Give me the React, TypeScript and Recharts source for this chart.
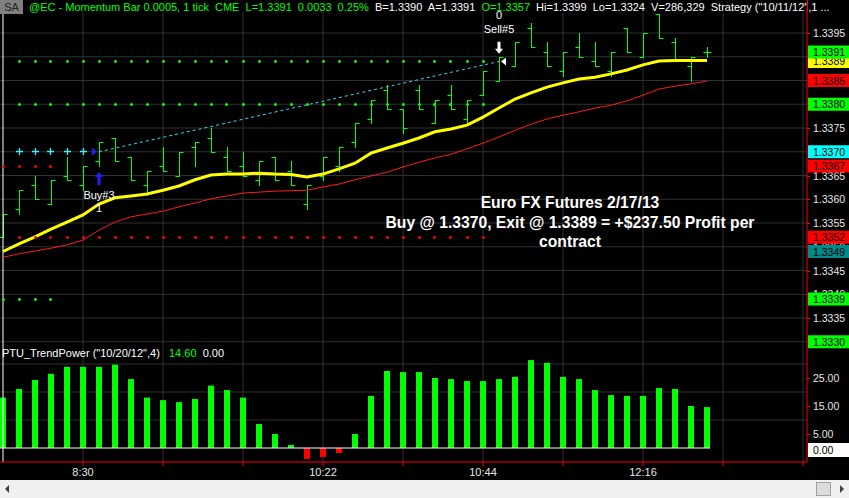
import React from 'react';
import {
  ComposedChart, Bar, Line, XAxis, YAxis, CartesianGrid,
  ReferenceLine, ReferenceDot, Cell,
} from 'recharts';

// Momentum bars (0.0005 range), one per index
const HIGH = [
  1.3357, 1.3362, 1.3365, 1.3364, 1.3369, 1.3367, 1.3372, 1.3373, 1.3369, 1.3366,
  1.3371, 1.3370, 1.3372, 1.3375, 1.3371, 1.3370, 1.3368, 1.3369, 1.3368, 1.3363,
  1.3369, 1.3371, 1.3376, 1.3381, 1.3384, 1.3379, 1.3384, 1.3381, 1.3384, 1.3381,
  1.3387, 1.3390, 1.3393, 1.3397, 1.3393, 1.3391, 1.3395, 1.3393, 1.3391, 1.3396,
  1.3395, 1.3399, 1.3394, 1.3390, 1.3392,
];
const LOW = [
  1.3352, 1.3357, 1.3360, 1.3359, 1.3364, 1.3362, 1.3367, 1.3368, 1.3364, 1.3361,
  1.3366, 1.3365, 1.3367, 1.3370, 1.3366, 1.3365, 1.3363, 1.3364, 1.3363, 1.3358,
  1.3364, 1.3366, 1.3371, 1.3376, 1.3379, 1.3374, 1.3379, 1.3376, 1.3379, 1.3376,
  1.3382, 1.3385, 1.3388, 1.3392, 1.3388, 1.3386, 1.3390, 1.3388, 1.3386, 1.3391,
  1.3390, 1.3394, 1.3389, 1.3385, 1.3390,
];
const OPEN = [
  1.3352, 1.3358, 1.3363, 1.3359, 1.3365, 1.3363, 1.3368, 1.3373, 1.3369, 1.3363,
  1.3367, 1.3365, 1.3371, 1.3373, 1.3369, 1.3367, 1.3364, 1.3369, 1.3366, 1.3359,
  1.3365, 1.3367, 1.3372, 1.3377, 1.3383, 1.3379, 1.3383, 1.3376, 1.3382, 1.3377,
  1.3382, 1.3385, 1.3388, 1.3396, 1.3391, 1.3387, 1.3392, 1.3389, 1.3387, 1.3396,
  1.3390, 1.3399, 1.3393, 1.3388, 1.3391,
];
const CLOSE = [
  1.3357, 1.3362, 1.3360, 1.3364, 1.3364, 1.3367, 1.3372, 1.3368, 1.3364, 1.3366,
  1.3366, 1.3370, 1.3372, 1.3370, 1.3366, 1.3365, 1.3368, 1.3364, 1.3363, 1.3363,
  1.3369, 1.3371, 1.3376, 1.3381, 1.3379, 1.3375, 1.3379, 1.3381, 1.3379, 1.3381,
  1.3387, 1.3390, 1.3393, 1.3392, 1.3388, 1.3391, 1.3390, 1.3388, 1.3391, 1.3391,
  1.3395, 1.3394, 1.3389, 1.3390, 1.3391,
];
// yellow average and red lower band
const MA_YELLOW = [
  1.33490, 1.33506, 1.33521, 1.33537, 1.33552, 1.33567, 1.33590, 1.33603, 1.33607, 1.33611,
  1.33619, 1.33628, 1.33641, 1.33651, 1.33653, 1.33653, 1.33655, 1.33653, 1.33652, 1.33647,
  1.33653, 1.33664, 1.33676, 1.33697, 1.33708, 1.33718, 1.33729, 1.33742, 1.33748, 1.33756,
  1.33773, 1.33792, 1.33811, 1.33824, 1.33836, 1.33845, 1.33853, 1.33857, 1.33864, 1.33872,
  1.33883, 1.33891, 1.33892, 1.33892, 1.33892,
];
const MA_RED = [
  1.33478, 1.33485, 1.33491, 1.33497, 1.33504, 1.33514, 1.33535, 1.33552, 1.33563, 1.33569,
  1.33575, 1.33584, 1.33592, 1.33601, 1.33607, 1.33613, 1.33615, 1.33617, 1.33618, 1.33619,
  1.33626, 1.33632, 1.33641, 1.33649, 1.33657, 1.33668, 1.33678, 1.33687, 1.33695, 1.33706,
  1.33718, 1.33731, 1.33745, 1.33758, 1.33769, 1.33777, 1.33784, 1.33792, 1.33798, 1.33807,
  1.33819, 1.33832, 1.33838, 1.33843, 1.33849,
];
// PTU_TrendPower histogram
const TREND_POWER = [
  18.0, 21.1, 24.3, 26.5, 29.0, 29.0, 29.0, 29.8, 24.6, 18.0,
  17.1, 16.4, 17.5, 22.3, 20.7, 18.0, 8.6, 5.0, 1.1, -3.9,
  -3.2, -1.8, 5.0, 18.6, 27.5, 27.1, 27.1, 25.0, 24.6, 23.9,
  23.9, 24.6, 25.4, 31.4, 30.4, 25.4, 24.6, 20.7, 18.9, 18.6,
  18.6, 21.4, 21.1, 15.0, 14.6,
];

const TIME_LABELS: Record<number, string> = { 5: '8:30', 20: '10:22', 30: '10:44', 40: '12:16' };
const GRID_X = [5, 10, 15, 20, 25, 30, 35, 40, 45, 50];
const PRICE_TICKS = [
  1.3395, 1.3390, 1.3385, 1.3380, 1.3375, 1.3370, 1.3365,
  1.3360, 1.3355, 1.3350, 1.3345, 1.3340, 1.3335, 1.3330,
];
const POWER_TICKS = [25, 15, 5, 0];
const POWER_GRID = [10, 20, 30];

// strategy levels: price drawn from bar `from` to bar `to`
const TARGET_1 = { price: 1.3389, from: 1, to: 30 };
const TARGET_2 = { price: 1.3380, from: 1, to: 30 };
const ENTRY_STOP = { price: 1.3370, from: 1, to: 5 };
const STOP_1 = { price: 1.3367, from: 0, to: 3 };
const STOP_2 = { price: 1.3352, from: 1, to: 30 };
const TARGET_3 = { price: 1.3339, from: 0, to: 3 };

const ENTRY = { bar: 6, price: 1.3370 };
const EXIT = { bar: 31, price: 1.3389 };

// flagged prices on the right scale
const FLAGS: Record<string, number> = {
  ma: 1.3389, last: 1.3391, band: 1.3385, target: 1.3380, entry: 1.3370,
  stop: 1.3367, stop2: 1.3352, prev: 1.3349, target3: 1.3339, low: 1.3330,
};
const FLAG_COLORS: Record<string, string> = {
  ma: '#ffff00', last: '#00ff00', band: '#ff0000', target: '#00ff00', entry: '#00ffff',
  stop: '#ff0000', stop2: '#ff0000', prev: '#008b8b', target3: '#00ff00', low: '#00ff00',
};

const X_DOMAIN: [number, number] = [-0.1875, 50.25];
const PRICE_DOMAIN: [number, number] = [1.332911, 1.339942];
const POWER_DOMAIN: [number, number] = [-5, 36.43];

const GREEN = '#00ff00';
const GRID = '#303030';
const FONT = 'Arial, "Liberation Sans", sans-serif';

const span = (lvl: { price: number; from: number; to: number }, i: number) =>
  i >= lvl.from && i <= lvl.to ? lvl.price : null;

const priceData = HIGH.map((h, i) => ({
  i,
  range: [LOW[i], h],
  high: h,
  low: LOW[i],
  open: OPEN[i],
  close: CLOSE[i],
  ma: MA_YELLOW[i],
  band: MA_RED[i],
  t1: span(TARGET_1, i),
  t2: span(TARGET_2, i),
  es: span(ENTRY_STOP, i),
  s1: span(STOP_1, i),
  s2: span(STOP_2, i),
  t3: span(TARGET_3, i),
}));

const powerData = TREND_POWER.map((v, i) => ({ i, power: v }));

const flagKey = (v: number) =>
  Object.keys(FLAGS).find((k) => Math.abs(FLAGS[k] - v) < 1e-7);

const snap = (v: number) => Math.round(v) + 0.5;

const OhlcBar = (p: any) => {
  const { x, y, width, height, payload } = p;
  if (x == null || y == null) return <g />;
  const top = Math.min(y, y + height);
  const bot = Math.max(y, y + height);
  const rng = payload.high - payload.low;
  const yOf = (v: number) => snap(top + ((payload.high - v) / rng) * (bot - top));
  const cx = snap(x + width / 2 - 0.5);
  return (
    <g stroke={GREEN} strokeWidth={1}>
      <line x1={cx} x2={cx} y1={Math.round(top)} y2={Math.round(bot) + 1} />
      <line x1={cx - 4} x2={cx} y1={yOf(payload.open)} y2={yOf(payload.open)} />
      <line x1={cx} x2={cx + 4} y1={yOf(payload.close)} y2={yOf(payload.close)} />
    </g>
  );
};

const makeDot = (color: string, arm: number, w: number) => (p: any) => {
  const { cx, cy, value, index } = p;
  if (value == null || cy == null || isNaN(cy)) return <g key={`e${index}`} />;
  const x = snap(cx - 0.5);
  const y = snap(cy - 0.5);
  return (
    <path
      key={`d${index}`}
      d={`M${x - arm} ${y}H${x + arm}M${x} ${y - arm}V${y + arm}`}
      stroke={color}
      strokeWidth={w}
      fill="none"
    />
  );
};

const PriceTick = (p: any) => {
  const { x, y, payload } = p;
  const v: number = payload.value;
  const k = flagKey(v);
  if (k) {
    return (
      <g>
        <rect x={x - 4} y={y - 6.5} width={42} height={13} fill={FLAG_COLORS[k]} />
        <text x={x + 1} y={y + 4} fill="#000" fontSize={10.5}>{v.toFixed(4)}</text>
      </g>
    );
  }
  return (
    <g>
      <line x1={x - 5} x2={x - 2} y1={snap(y)} y2={snap(y)} stroke="#ff0000" />
      <text x={x + 1} y={y + 4} fill="#e6e6e6" fontSize={10.5}>{v.toFixed(4)}</text>
    </g>
  );
};

const PowerTick = (p: any) => {
  const { x, y, payload } = p;
  const v: number = payload.value;
  if (v === 0) {
    return (
      <g>
        <rect x={x - 4} y={y - 5} width={42} height={14} fill="#ffffff" />
        <text x={x + 1} y={y + 6} fill="#000" fontSize={10.5}>{v.toFixed(2)}</text>
      </g>
    );
  }
  return (
    <g>
      <line x1={x - 5} x2={x - 2} y1={snap(y)} y2={snap(y)} stroke="#ff0000" />
      <text x={x + 1} y={y + 4} fill="#e6e6e6" fontSize={10.5}>{v.toFixed(2)}</text>
    </g>
  );
};

const BuyMarker = (p: any) => {
  const { cx, cy } = p;
  return (
    <g>
      <path
        d={`M${cx} ${cy + 6}L${cx + 4} ${cy + 11}H${cx + 1.5}V${cy + 19}H${cx - 1.5}V${cy + 11}H${cx - 4}Z`}
        fill="#2020ff"
      />
      <text x={cx} y={cy + 33} textAnchor="middle" fill="#ffffff" fontSize={11}>Buy#3</text>
      <text x={cx} y={cy + 46} textAnchor="middle" fill="#ffffff" fontSize={11}>1</text>
    </g>
  );
};

const SellMarker = (p: any) => {
  const { cx, cy } = p;
  return (
    <g>
      <path
        d={`M${cx} ${cy - 3}L${cx - 4} ${cy - 8}H${cx - 1.5}V${cy - 15}H${cx + 1.5}V${cy - 8}H${cx + 4}Z`}
        fill="#ffffff"
      />
      <text x={cx} y={cy - 24} textAnchor="middle" fill="#ffffff" fontSize={11}>Sell#5</text>
      <text x={cx} y={cy - 38} textAnchor="middle" fill="#ffffff" fontSize={11}>0</text>
    </g>
  );
};

const EntryFlag = (p: any) => {
  const { cx, cy } = p;
  return <path d={`M${cx - 7} ${cy - 4}V${cy + 4}L${cx - 2} ${cy}Z`} fill="#2020ff" />;
};

const ExitFlag = (p: any) => {
  const { cx, cy } = p;
  return <path d={`M${cx + 2} ${cy}L${cx + 7} ${cy - 4}V${cy + 4}Z`} fill="#ffffff" />;
};

const labelTicks = [
  ...PRICE_TICKS.filter((v) => !flagKey(v)),
  ...Object.keys(FLAGS).map((k) => FLAGS[k]),
];

export default function App() {
  return (
    <div
      style={{
        position: 'absolute', left: 0, top: 0, width: 849, height: 498,
        background: '#000', overflow: 'hidden', fontFamily: FONT,
      }}
    >
      {/* price panel */}
      <div style={{ position: 'absolute', left: 0, top: 0 }}>
        <ComposedChart width={849} height={353} data={priceData} margin={{ top: 12, right: 0, bottom: 7, left: 0 }}>
          <CartesianGrid stroke={GRID} horizontalValues={PRICE_TICKS} verticalValues={GRID_X} />
          <XAxis type="number" dataKey="i" domain={X_DOMAIN} hide allowDataOverflow />
          <YAxis
            orientation="right"
            type="number"
            domain={PRICE_DOMAIN}
            ticks={labelTicks}
            interval={0}
            width={42}
            tickSize={3}
            tickMargin={2}
            tickLine={false}
            axisLine={{ stroke: '#ff0000' }}
            tick={<PriceTick />}
            allowDataOverflow
          />
          <ReferenceLine x={0} stroke="#ffffff" />
          <Line dataKey="t1" stroke="none" dot={makeDot(GREEN, 1.5, 1.5)} activeDot={false} isAnimationActive={false} />
          <Line dataKey="t2" stroke="none" dot={makeDot(GREEN, 1.5, 1.5)} activeDot={false} isAnimationActive={false} />
          <Line dataKey="s1" stroke="none" dot={makeDot('#ff0000', 1.5, 1.5)} activeDot={false} isAnimationActive={false} />
          <Line dataKey="s2" stroke="none" dot={makeDot('#ff0000', 1.5, 1.5)} activeDot={false} isAnimationActive={false} />
          <Line dataKey="t3" stroke="none" dot={makeDot(GREEN, 1.5, 1.5)} activeDot={false} isAnimationActive={false} />
          <Line dataKey="es" stroke="none" dot={makeDot('#40f0ff', 3.5, 1.3)} activeDot={false} isAnimationActive={false} />
          <ReferenceLine
            segment={[{ x: ENTRY.bar, y: ENTRY.price }, { x: EXIT.bar, y: EXIT.price }]}
            stroke="#40d8f0"
            strokeDasharray="3 3"
          />
          <Line dataKey="band" stroke="#ff1a1a" strokeWidth={1} dot={false} activeDot={false} isAnimationActive={false} />
          <Line dataKey="ma" stroke="#ffff00" strokeWidth={3} dot={false} activeDot={false} isAnimationActive={false} />
          <Bar dataKey="range" barSize={6} shape={<OhlcBar />} isAnimationActive={false} />
          <ReferenceDot x={ENTRY.bar} y={ENTRY.price} shape={<EntryFlag />} />
          <ReferenceDot x={ENTRY.bar} y={LOW[ENTRY.bar]} shape={<BuyMarker />} />
          <ReferenceDot x={EXIT.bar} y={EXIT.price} shape={<ExitFlag />} />
          <ReferenceDot x={EXIT.bar} y={HIGH[EXIT.bar]} shape={<SellMarker />} />
        </ComposedChart>
      </div>

      {/* indicator panel */}
      <div style={{ position: 'absolute', left: 0, top: 346 }}>
        <ComposedChart width={849} height={134} data={powerData} margin={{ top: 0, right: 0, bottom: 0, left: 0 }}>
          <CartesianGrid stroke={GRID} horizontalValues={POWER_GRID} verticalValues={GRID_X} />
          <XAxis
            type="number"
            dataKey="i"
            domain={X_DOMAIN}
            ticks={GRID_X}
            interval={0}
            tickFormatter={(v: number) => TIME_LABELS[v] ?? ''}
            axisLine={{ stroke: '#ff0000' }}
            tickLine={{ stroke: '#ff0000' }}
            tickSize={4}
            tickMargin={2}
            height={18}
            tick={{ fill: '#e6e6e6', fontSize: 11 }}
            allowDataOverflow
          />
          <YAxis
            orientation="right"
            type="number"
            domain={POWER_DOMAIN}
            ticks={POWER_TICKS}
            interval={0}
            width={42}
            tickSize={3}
            tickMargin={2}
            tickLine={false}
            axisLine={{ stroke: '#ff0000' }}
            tick={<PowerTick />}
            allowDataOverflow
          />
          <ReferenceLine x={0} stroke="#ffffff" />
          <Bar dataKey="power" barSize={6} isAnimationActive={false}>
            {powerData.map((d) => (
              <Cell key={d.i} fill={d.power >= 0 ? GREEN : '#ff0000'} />
            ))}
          </Bar>
          <ReferenceLine
            segment={[{ x: X_DOMAIN[0], y: 0 }, { x: TREND_POWER.length - 1 + 0.2, y: 0 }]}
            stroke="#ffffff"
          />
        </ComposedChart>
      </div>

      {/* header */}
      <div
        style={{
          position: 'absolute', left: 0, top: 0, height: 15, width: 807,
          fontSize: 11, lineHeight: '15px', whiteSpace: 'pre', color: '#fff',
        }}
      >
        <span style={{ display: 'inline-block', background: '#808080', color: '#202020', width: 23, height: 14, textAlign: 'center', marginRight: 6 }}>SA</span>
        <span style={{ color: GREEN }}>@EC - Momentum Bar 0.0005, 1 tick  CME  L=1.3391  0.0033  0.25%</span>
        <span>  B=1.3390  A=1.3391  </span>
        <span style={{ color: GREEN }}>O=1.3357</span>
        <span>  Hi=1.3399  Lo=1.3324  V=286,329  Strategy ("10/11/12",1 ...</span>
      </div>
      <div style={{ position: 'absolute', left: 807, top: 0, width: 1, height: 12, background: '#ff0000' }} />

      {/* indicator title */}
      <div style={{ position: 'absolute', left: 2, top: 346, fontSize: 11, lineHeight: '14px', whiteSpace: 'pre', color: '#fff' }}>
        <span>PTU_TrendPower ("10/20/12",4)   </span>
        <span style={{ color: GREEN }}>14.60</span>
        <span>  0.00</span>
      </div>

      {/* annotation */}
      <div
        style={{
          position: 'absolute', left: 370, top: 193, width: 400, textAlign: 'center',
          color: '#fff', fontWeight: 'bold', fontSize: 15.7, lineHeight: '19.5px',
        }}
      >
        <div>Euro FX Futures 2/17/13</div>
        <div>Buy @ 1.3370, Exit @ 1.3389 = +$237.50 Profit per</div>
        <div>contract</div>
      </div>

      {/* scrollbar */}
      <div style={{ position: 'absolute', left: 0, top: 480, width: 849, height: 18, background: '#f0f0f0' }}>
        <div style={{ position: 'absolute', left: 5, top: 5, width: 0, height: 0, borderTop: '4px solid transparent', borderBottom: '4px solid transparent', borderRight: '4px solid #404040' }} />
        <div style={{ position: 'absolute', left: 816, top: 2, width: 15, height: 14, background: '#dcdcdc', border: '1px solid #a0a0a0', boxSizing: 'border-box' }} />
        <div style={{ position: 'absolute', left: 840, top: 5, width: 0, height: 0, borderTop: '4px solid transparent', borderBottom: '4px solid transparent', borderLeft: '4px solid #404040' }} />
      </div>
    </div>
  );
}
